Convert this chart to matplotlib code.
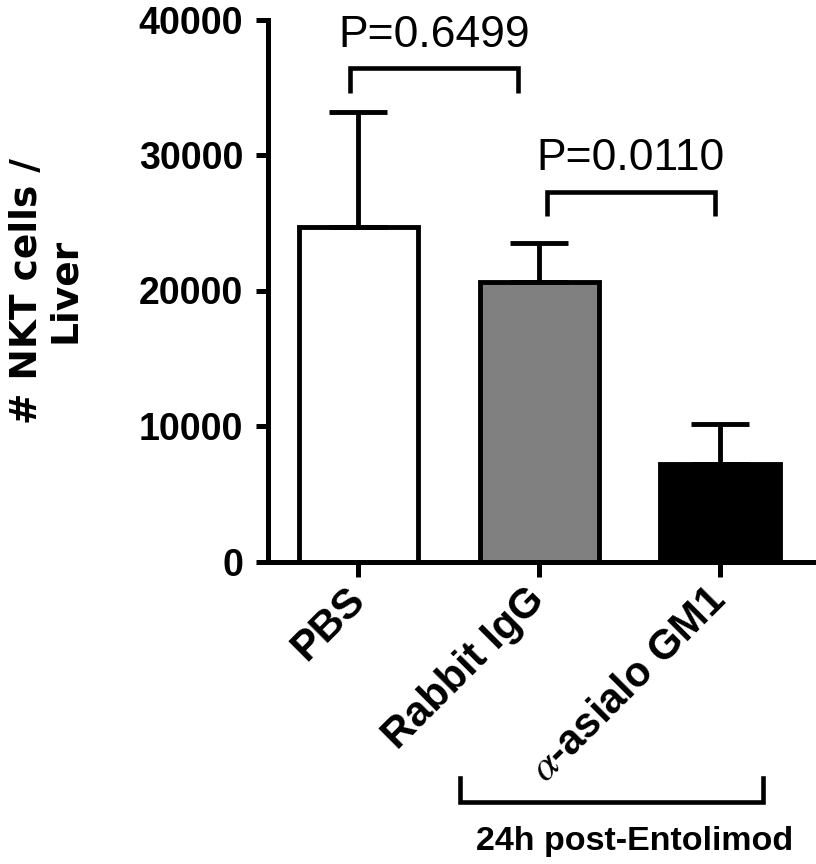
import matplotlib
matplotlib.use('Agg')
import matplotlib.pyplot as plt
from matplotlib.transforms import blended_transform_factory

# ---- data ----
categories = ['PBS', 'Rabbit IgG', r'$\alpha$-asialo GM1']
means = [24700, 20600, 7200]
err_upper = [8500, 2900, 2950]
bar_colors = ['white', '#808080', 'black']
yticks = [0, 10000, 20000, 30000, 40000]
p_labels = ['P=0.6499', 'P=0.0110']
p_pairs = [(0, 1), (1, 2)]
p_bracket_y = [36400, 27300]
group_label = '24h post-Entolimod'
ylabel = '# NKT cells /\nLiver'

plt.rcParams['font.family'] = ['Liberation Sans', 'DejaVu Sans']
plt.rcParams['mathtext.fontset'] = 'stix'

fig = plt.figure(figsize=(8.16, 8.64), dpi=100)
ax = fig.add_axes([268/816, 1-561.5/864, (814-268)/816, 542/864])

x = list(range(len(categories)))
ax.bar(x, means, width=0.66, color=bar_colors, edgecolor='black',
       linewidth=3.5, zorder=2)
ax.errorbar(x, means, yerr=[[0]*len(x), err_upper], fmt='none', ecolor='black',
            elinewidth=3.5, capsize=21, capthick=3.5, zorder=3)

ax.set_xlim(-0.5, 2.52)
ax.set_ylim(0, 40000)
for s in ['top', 'right']:
    ax.spines[s].set_visible(False)
for s in ['left', 'bottom']:
    ax.spines[s].set_linewidth(3.6)
    ax.spines[s].set_capstyle('projecting')

ax.set_yticks(yticks)
ax.set_yticklabels([str(t) for t in yticks], fontsize=27, fontweight='bold')
ax.tick_params(axis='y', length=9, width=3.6, pad=9)
ax.set_xticks(x)
ax.set_xticklabels(categories, rotation=45, ha='right', va='center',
                   rotation_mode='anchor', fontsize=30, fontweight='bold')
ax.tick_params(axis='x', length=11, width=3.6, pad=12)

ax.text(-0.4066, 0.5, ylabel, transform=ax.transAxes, rotation=90,
        ha='center', va='center', fontsize=27, fontweight='bold',
        family=['DejaVu Sans'], linespacing=1.05, multialignment='center')

# significance brackets
offsets = [(-0.044, -0.116), (0.044, -0.03)]
drop = 1800
for (i, j), (ol, orr), yb, lab in zip(p_pairs, offsets, p_bracket_y, p_labels):
    xl, xr = i + ol, j + orr
    ax.plot([xl, xl, xr, xr], [yb - drop, yb, yb, yb - drop], color='black',
            lw=3.3, solid_capstyle='butt', solid_joinstyle='miter', clip_on=False)
    ax.text((xl + xr) / 2, yb + 1600, lab, ha='center', va='baseline',
            fontsize=32)

# group bracket below axis
tr = blended_transform_factory(ax.transData, ax.transAxes)
gl, gr = 0.564, 2.24
ax.plot([gl, gl, gr, gr], [-0.399, -0.444, -0.444, -0.399], color='black',
        lw=3.3, transform=tr, clip_on=False, solid_joinstyle='miter')
ax.text(1.53, -0.517, group_label, transform=tr, ha='center',
        va='center', fontsize=24.5, fontweight='bold')

fig.savefig('out.png', dpi=100)
